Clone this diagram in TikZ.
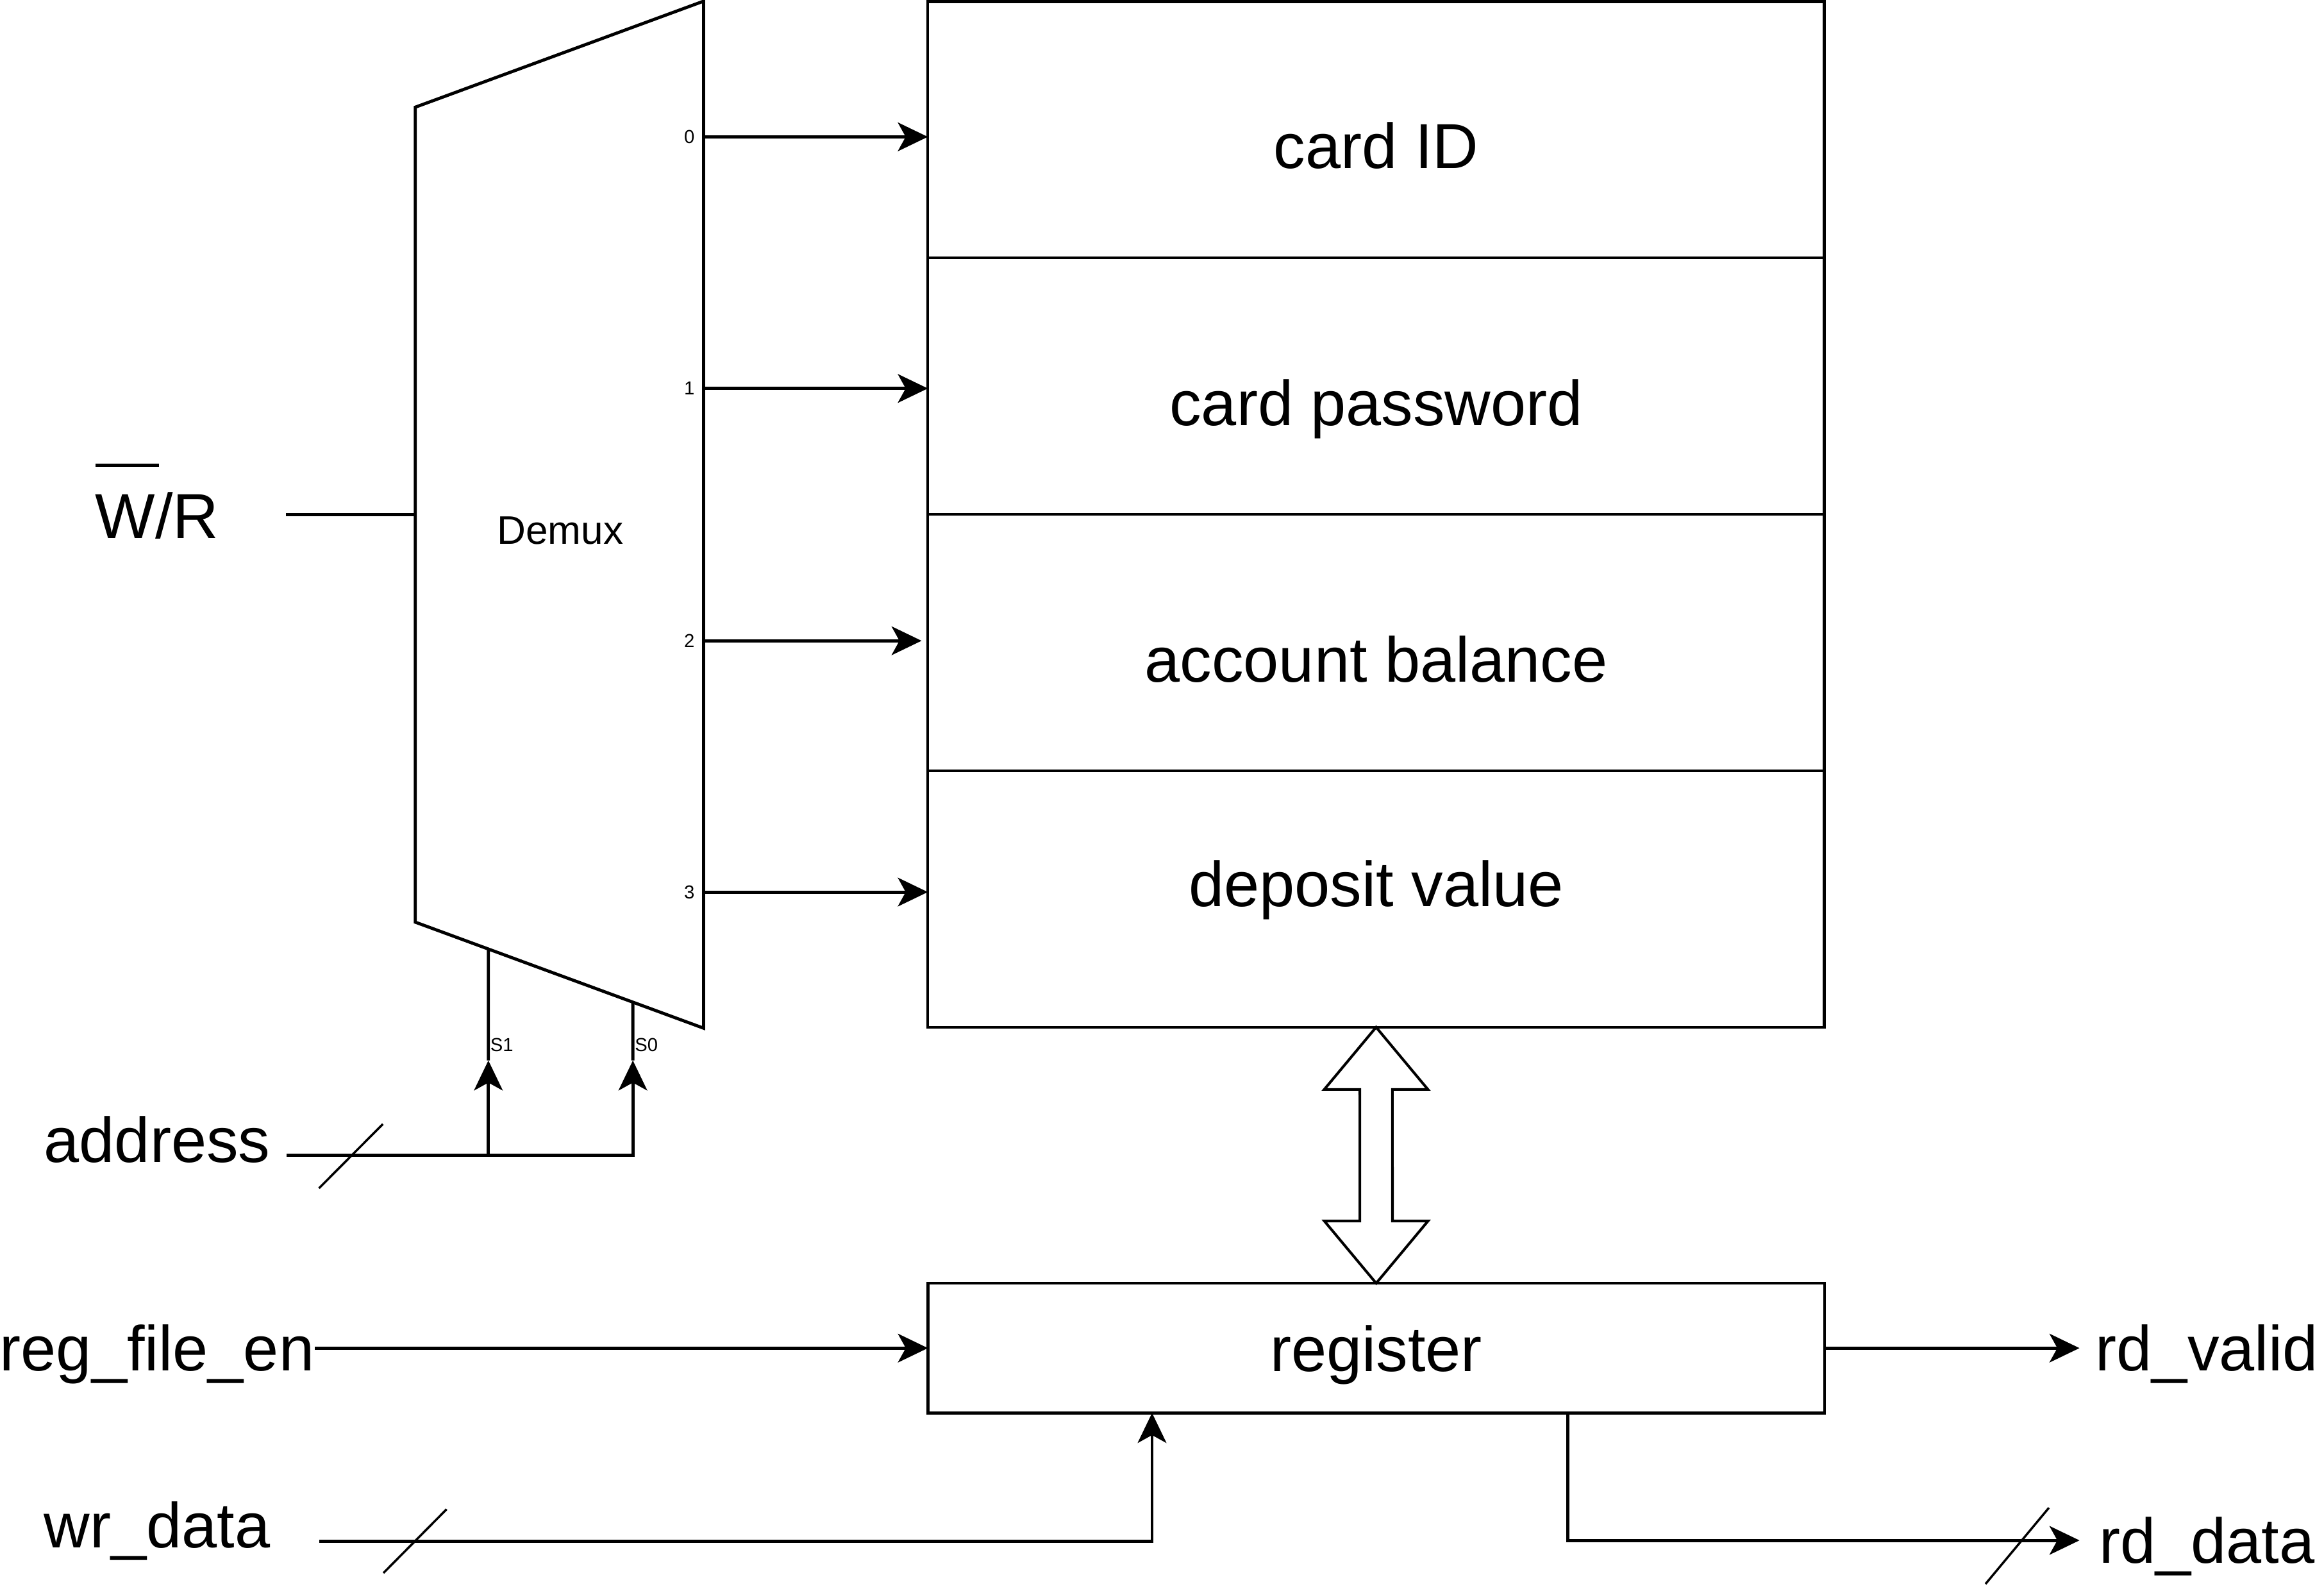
\documentclass[tikz,border=0pt]{standalone}
\usepackage{fontspec}
\setmainfont{Liberation Sans}
\usepackage{tikz}
\usetikzlibrary{arrows.meta,positioning,calc}

\newcommand{\bigtxt}{\fontsize{24.4}{29}\selectfont}
\newcommand{\barW}{\rlap{\rule[1.13em]{1em}{1.1pt}}W}

\tikzset{
  wire/.style={line width=1.2pt},
  arr/.style={wire, -{Stealth[length=11.5pt,width=11pt,inset=3pt]}},
  bus/.style={line width=0.85pt},
  lbl/.style={font=\bigtxt, inner sep=0pt, anchor=base},
  pin/.style={font=\fontsize{7.2}{8}\selectfont, inner sep=0pt},
  cell/.style={draw, line width=1.1pt, minimum width=12.1cm, minimum height=3.46cm, inner sep=0pt, outer sep=0pt},
}

\begin{document}
\begin{tikzpicture}[x=0.02cm, y=-0.02cm]
    \useasboundingbox (0,0) rectangle (1568,1073);

    % Demux
    \coordinate (dtl) at (280.2,72.3);
    \coordinate (dtr) at (474.7,0.8);
    \coordinate (dbr) at (474.7,693.5);
    \coordinate (dbl) at (280.2,622);
    \draw [wire, line join=miter] (dtl) -- (dtr) -- (dbr) -- (dbl) -- cycle;
    \node [font=\fontsize{15.3}{18}\selectfont] (demux) at (378,358) {Demux};

    % outputs
    \coordinate (o0) at (474.7,92.3);
    \coordinate (o1) at (474.7,262);
    \coordinate (o2) at (474.7,432.2);
    \coordinate (o3) at (474.7,601.7);
    \node [pin, anchor=east] (l0) at (469,92.3) {0};
    \node [pin, anchor=east] (l1) at (469,262) {1};
    \node [pin, anchor=east] (l2) at (469,432.2) {2};
    \node [pin, anchor=east] (l3) at (469,601.7) {3};

    % select
    \coordinate (s1) at (329.5,715.3);
    \coordinate (s0) at (427,715.3);
    \draw [wire] ($(dbl)!0.2535!(dbr)$) -- (s1);
    \draw [wire] ($(dbl)!0.7547!(dbr)$) -- (s0);
    \node [pin, anchor=west] (ls1) at (330.5,705) {S1};
    \node [pin, anchor=west] (ls0) at (428,705) {S0};

    % memory
    \node [cell, anchor=north west] (c0) at (626,1) {};
    \node [cell, below=0pt of c0] (c1) {};
    \node [cell, below=0pt of c1] (c2) {};
    \node [cell, below=0pt of c2] (c3) {};
    \node [lbl] (tid) at (928.5,113.6) {card ID};
    \node [lbl] (tpw) at (928.5,287) {card password};
    \node [lbl] (tbal) at (928.5,460) {account balance};
    \node [lbl] (tdep) at (928.5,611.6) {deposit value};

    \draw [arr] (o0) -- (o0 -| c0.west);
    \draw [arr] (o1) -- (o1 -| c1.west);
    \draw [arr, shorten >=2.4pt] (o2) -- (o2 -| c2.west);
    \draw [arr] (o3) -- (o3 -| c3.west);

    % register
    \node [cell, minimum height=1.75cm, font=\bigtxt, text depth=0pt] (reg) at (928.5,909.3) {register};
    \draw [line width=1pt, line join=miter] (c3.south) -- ++(35,42) -- ++(-24,0)
        -- ($(reg.north)+(11,-42)$) -- ++(24,0) -- (reg.north) -- ++(-35,-42) -- ++(24,0)
        -- ($(c3.south)+(-11,42)$) -- ++(-24,0) -- cycle;

    % inputs
    \node [lbl] (wr) at (106,363.3) {\barW/R};
    \coordinate (wrin) at (193,347);
    \draw [wire] (wrin) -- (wrin -| dtl);

    \node [lbl] (addr) at (106,784) {address};
    \coordinate (ain) at (193.3,779.4);
    \draw [arr] (ain) -| (s0);
    \draw [arr] (ain -| s1) -- (s1);
    \draw [bus] (215.2,801.5) -- (258.3,758.2);

    \node [lbl] (rfe) at (106,924.4) {reg\_file\_en};
    \draw [arr] (rfe.east |- reg.west) -- (reg.west);

    \node [lbl] (wrd) at (106,1044) {wr\_data};
    \coordinate (wdin) at (215.6,1039.5);
    \draw [arr] (wdin) -| ($(reg.south west)!0.25!(reg.south east)$);
    \draw [bus] (258.7,1061) -- (301.3,1018);

    % outputs
    \node [lbl] (rdv) at (1489,924.4) {rd\_valid};
    \coordinate (rdvout) at (1403,909.3);
    \draw [arr] (reg.east) -- (rdvout);

    \node [lbl] (rdd) at (1489,1054.4) {rd\_data};
    \coordinate (rddout) at (1403,1039);
    \draw [arr] ($(reg.south west)!0.7135!(reg.south east)$) |- (rddout);
    \draw [bus] (1339.6,1068.4) -- (1382.4,1017);
\end{tikzpicture}
\end{document}
